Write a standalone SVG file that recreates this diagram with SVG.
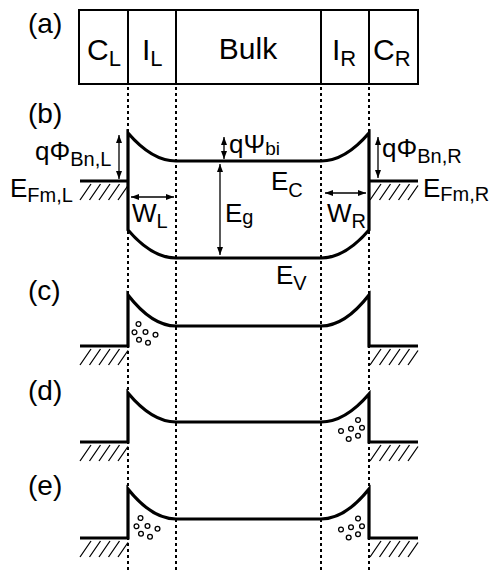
<svg xmlns="http://www.w3.org/2000/svg" width="493" height="570" viewBox="0 0 493 570">
<defs>
<style>
text{font-family:"Liberation Sans",Arial,sans-serif;fill:#000}
.pl{font-size:28px}
.bx{font-size:30px}
.lb{font-size:26px}
.band{fill:none;stroke:#000;stroke-width:3.2;stroke-linejoin:miter}
.dot{fill:none;stroke:#000;stroke-width:2;stroke-dasharray:3 3}
.arr{fill:none;stroke:#000;stroke-width:1.3;marker-start:url(#ah);marker-end:url(#ah)}
.hat{fill:none;stroke:#000;stroke-width:1.3}
.e{fill:#fff;stroke:#000;stroke-width:1.3}
</style>
<marker id="ah" viewBox="0 0 8 6" refX="8" refY="3" markerWidth="8" markerHeight="6" markerUnits="userSpaceOnUse" orient="auto-start-reverse"><path d="M0,0 L8,3 L0,6 Z" fill="#000"/></marker>
<g id="hatch" class="hat">
<path d="M0,19 L11,3 M9.5,19 L20.5,3 M19,19 L30,3 M28.5,19 L39.5,3 M38,19 L48,4.5"/>
</g>
<g id="elec">
<circle class="e" cx="4.5" cy="0" r="2.4"/>
<circle class="e" cx="0.5" cy="8.3" r="2.4"/>
<circle class="e" cx="11.5" cy="8" r="2.4"/>
<circle class="e" cx="21.5" cy="10.7" r="2.4"/>
<circle class="e" cx="5" cy="15.7" r="2.4"/>
<circle class="e" cx="14" cy="18.7" r="2.4"/>
</g>
<g id="elecR">
<circle class="e" cx="17" cy="0" r="2.4"/>
<circle class="e" cx="0" cy="11" r="2.4"/>
<circle class="e" cx="10" cy="8.7" r="2.4"/>
<circle class="e" cx="21" cy="7.7" r="2.4"/>
<circle class="e" cx="7.7" cy="19" r="2.4"/>
<circle class="e" cx="17" cy="15.7" r="2.4"/>
</g>
</defs>
<rect width="493" height="570" fill="#fff"/>

<g id="labels">
<text class="pl" x="28" y="33">(a)</text>
<text class="pl" x="28" y="123">(b)</text>
<text class="pl" x="28" y="300">(c)</text>
<text class="pl" x="28" y="400">(d)</text>
<text class="pl" x="28" y="495">(e)</text>
</g>

<g id="structure">
<rect x="79" y="10" width="339" height="74" fill="none" stroke="#000" stroke-width="2"/>
<path d="M128,10 V84 M176,10 V84 M321,10 V84 M369,10 V84" stroke="#000" stroke-width="2"/>
<text class="bx" x="87" y="60">C<tspan font-size="22" dy="6">L</tspan></text>
<text class="bx" x="142" y="60">I<tspan font-size="22" dy="6">L</tspan></text>
<text class="bx" x="248" y="59" text-anchor="middle">Bulk</text>
<text class="bx" x="332" y="60">I<tspan font-size="22" dy="6">R</tspan></text>
<text class="bx" x="373" y="60">C<tspan font-size="22" dy="6">R</tspan></text>
</g>

<g id="connectors">
<path class="dot" d="M128,87 V570 M176,87 V570 M321,87 V570 M369,87 V570"/>
</g>

<g id="panel-b">
<path class="band" d="M128,133 Q152,161 176,161 L321,161 Q345,161 369,133 L369,230 Q345,258 321,258 L176,258 Q152,258 128,230 Z"/>
<path class="band" d="M80,181 H128 M369,181 H418"/>
<use href="#hatch" x="80" y="181"/>
<use href="#hatch" x="370" y="181"/>
<line class="arr" x1="119" y1="135" x2="119" y2="179"/>
<line class="arr" x1="131" y1="197" x2="174" y2="197"/>
<line class="arr" x1="220" y1="164" x2="220" y2="255"/>
<line class="arr" x1="224" y1="137" x2="224" y2="159"/>
<line class="arr" x1="325" y1="193" x2="366" y2="193"/>
<line class="arr" x1="378" y1="137" x2="378" y2="178"/>
<text class="lb" x="35" y="160">qΦ<tspan font-size="20" dy="6">Bn,L</tspan></text>
<text class="lb" x="10" y="197">E<tspan font-size="20" dy="5">Fm,L</tspan></text>
<text class="lb" x="132" y="222">W<tspan font-size="20" dy="6">L</tspan></text>
<text class="lb" x="225" y="222">E<tspan font-size="20" dy="2">g</tspan></text>
<text class="lb" x="229" y="153">qΨ<tspan font-size="19" dy="2">bi</tspan></text>
<text class="lb" x="271" y="190">E<tspan font-size="20" dy="7">C</tspan></text>
<text class="lb" x="276" y="284">E<tspan font-size="20" dy="6">V</tspan></text>
<text class="lb" x="327" y="222">W<tspan font-size="20" dy="6">R</tspan></text>
<text class="lb" x="382" y="157">qΦ<tspan font-size="20" dy="6">Bn,R</tspan></text>
<text class="lb" x="423" y="197">E<tspan font-size="20" dy="4">Fm,R</tspan></text>
</g>

<g id="panel-c">
<path class="band" d="M80,346 H128 V295 Q152,326 176,326 L321,326 Q345,326 369,295 V346 H418"/>
<use href="#hatch" x="80" y="346"/>
<use href="#hatch" x="370" y="346"/>
<use href="#elec" x="134" y="324"/>
</g>

<g id="panel-d">
<path class="band" d="M80,442 H128 V393 Q152,422 176,422 L321,422 Q345,422 369,394 V442 H418"/>
<use href="#hatch" x="80" y="442"/>
<use href="#hatch" x="370" y="442"/>
<use href="#elecR" x="341" y="420"/>
</g>

<g id="panel-e">
<path class="band" d="M80,538 H128 V489 Q152,519 176,519 L321,519 Q345,519 369,489 V538 H418"/>
<use href="#hatch" x="80" y="538"/>
<use href="#hatch" x="370" y="538"/>
<use href="#elec" x="136" y="518"/>
<use href="#elecR" x="341" y="518.5"/>
</g>
</svg>
